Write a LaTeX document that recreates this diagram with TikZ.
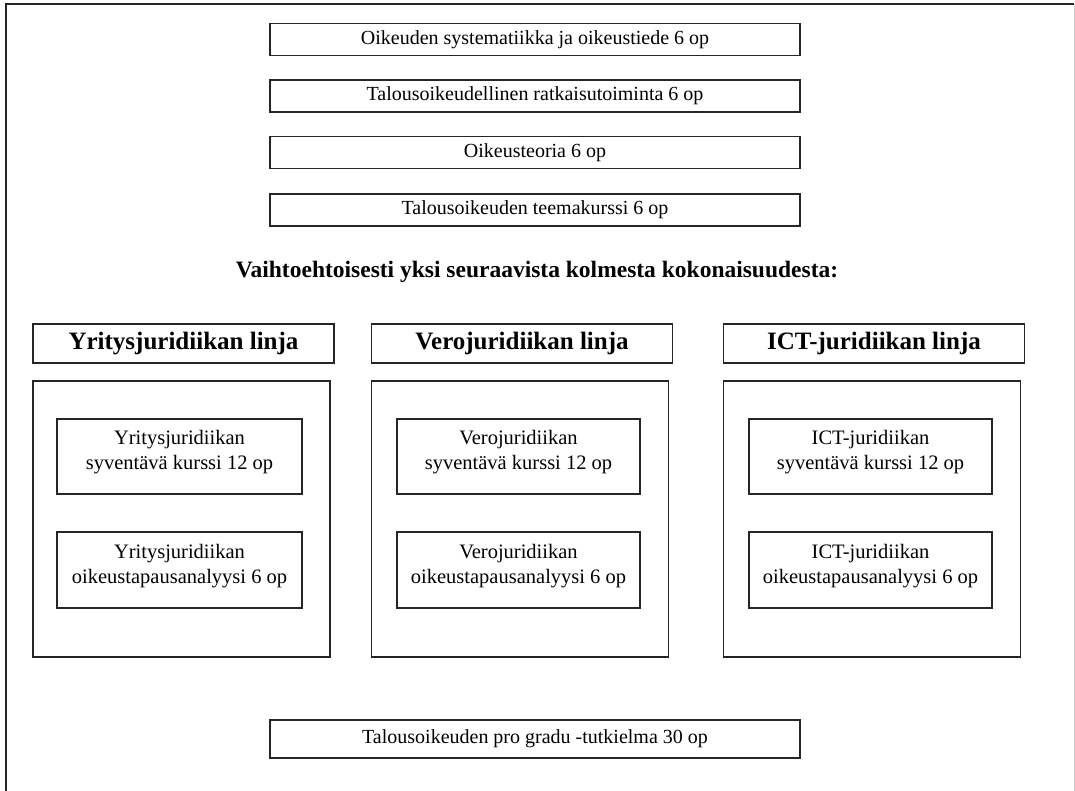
\documentclass[tikz,border=0pt]{standalone}
\usepackage{fontspec}
\setmainfont{Liberation Serif}
\begin{document}
\begin{tikzpicture}[x=1pt,y=-1pt,
  course/.style={draw=black!85,line width=1.1pt,rectangle,inner sep=0pt,
    minimum width=530pt,minimum height=32pt,font=\fontsize{20}{23}\selectfont},
  linehead/.style={draw=black!85,line width=1.1pt,rectangle,inner sep=0pt,
    minimum width=301pt,minimum height=39pt,font=\fontsize{25}{29}\selectfont\bfseries},
  linebox/.style={draw=black!85,line width=1.1pt,rectangle,inner sep=0pt,
    minimum width=297pt,minimum height=276pt},
  inner/.style={draw=black!85,line width=1.1pt,rectangle,inner sep=0pt,
    minimum width=244pt,minimum height=75pt,align=center,
    font=\fontsize{20.5}{25}\selectfont},
  heading/.style={inner sep=0pt,font=\fontsize{23.5}{28}\selectfont\bfseries}]
\useasboundingbox (0,0) rectangle (1075,791);
\fill[white] (0,0) rectangle (1075,791);
% outer frame
\coordinate (fbl) at (6,791);
\coordinate (ftl) at (6,4);
\coordinate (ftr) at (1074,4);
\coordinate (fbr) at (1074,791);
\draw[line width=1.3pt,black!85] (fbl) -- (ftl) -- (ftr);
\draw[line width=1pt,black!20] (ftr) -- (fbr);
% top courses
\node[course] (c1) at (535,39.5) {Oikeuden systematiikka ja oikeustiede 6 op};
\node[course] (c2) at (535,96) {Talousoikeudellinen ratkaisutoiminta 6 op};
\node[course] (c3) at (535,152.5) {Oikeusteoria 6 op};
\node[course] (c4) at (535,210) {Talousoikeuden teemakurssi 6 op};
\node[heading] (hd) at (537,272) {Vaihtoehtoisesti yksi seuraavista kolmesta kokonaisuudesta:};
% column headers
\node[linehead] (h1) at (183.5,343.5) {Yritysjuridiikan linja};
\node[linehead] (h2) at (522,343.5) {Verojuridiikan linja};
\node[linehead] (h3) at (874,343.5) {ICT-juridiikan linja};
% column boxes
\node[linebox] (b1) at (181.5,519) {};
\node[linebox] (b2) at (520,519) {};
\node[linebox] (b3) at (872,519) {};
% inner boxes
\node[inner,minimum width=245pt] (y1) at (179.5,456.5) {Yritysjuridiikan\\syventävä kurssi 12 op\\[-12pt]};
\node[inner,minimum width=245pt,minimum height=76pt] (y2) at (179.5,570) {Yritysjuridiikan\\oikeustapausanalyysi 6 op\\[-12pt]};
\node[inner,minimum width=243pt] (v1) at (518.5,456.5) {Verojuridiikan\\syventävä kurssi 12 op\\[-12pt]};
\node[inner,minimum width=243pt,minimum height=76pt] (v2) at (518.5,570) {Verojuridiikan\\oikeustapausanalyysi 6 op\\[-12pt]};
\node[inner,minimum width=243pt] (i1) at (870.5,456.5) {ICT-juridiikan\\syventävä kurssi 12 op\\[-12pt]};
\node[inner,minimum width=243pt,minimum height=76pt] (i2) at (870.5,570) {ICT-juridiikan\\oikeustapausanalyysi 6 op\\[-12pt]};
% thesis
\node[course,minimum height=38pt] (g) at (535,739) {Talousoikeuden pro gradu -tutkielma 30 op};
\end{tikzpicture}
\end{document}
